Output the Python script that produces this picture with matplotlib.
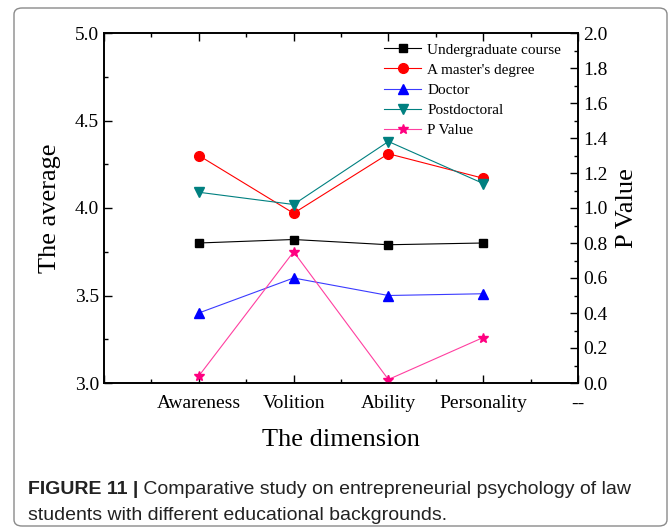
import matplotlib
matplotlib.use("Agg")
import matplotlib.pyplot as plt
from matplotlib.patches import FancyBboxPatch
from matplotlib.ticker import MultipleLocator, FixedLocator

categories = ["", "Awareness", "Volition", "Ability", "Personality", "--"]
undergrad = [3.80, 3.82, 3.79, 3.80]
master = [4.30, 3.97, 4.31, 4.17]
doctor = [3.40, 3.60, 3.50, 3.51]
postdoc = [4.09, 4.02, 4.38, 4.14]
p_value = [0.04, 0.75, 0.02, 0.26]
series_labels = ["Undergraduate course", "A master's degree", "Doctor", "Postdoctoral", "P Value"]
caption_bold = "FIGURE 11 |"
caption_rest = " Comparative study on entrepreneurial psychology of law"
caption_line2 = "students with different educational backgrounds."

serif = ["Liberation Serif", "DejaVu Serif"]
plt.rcParams["font.family"] = serif

W, H = 672, 532
fig = plt.figure(figsize=(W / 100, H / 100), dpi=100)
frame = FancyBboxPatch((14 / W, 6 / H), (667 - 14) / W, (525 - 7) / H,
                       boxstyle="round,pad=0,rounding_size=0.012",
                       transform=fig.transFigure, facecolor="none",
                       edgecolor="#8a8a8a", linewidth=1.0, zorder=0)
fig.patches.append(frame)

ax = fig.add_axes([104 / W, 1 - 383 / H, (578 - 104) / W, (383 - 33) / H])
ax.patch.set_alpha(0)
ax2 = ax.twinx()

x = [1, 2, 3, 4]
lw = 0.8
l1, = ax.plot(x, undergrad, color="#000000", lw=lw, marker="s", ms=6, label=series_labels[0])
l2, = ax.plot(x, master, color="#ff0000", lw=lw, marker="o", ms=7, label=series_labels[1])
l3, = ax.plot(x, doctor, color="#3b3bff", lw=lw, marker="^", ms=7.5, mfc="#0000ff", mec="#0000ff", label=series_labels[2])
l4, = ax.plot(x, postdoc, color="#008080", lw=lw, marker="v", ms=7.5, label=series_labels[3])
l5, = ax2.plot(x, p_value, color="#ff3fa0", lw=lw, marker="*", ms=7, mfc="#ff0080", mec="#ff0080", label=series_labels[4])

ax.set_xlim(0, 5)
ax.set_ylim(3.0, 5.0)
ax2.set_ylim(0.0, 2.0)

ax.xaxis.set_major_locator(FixedLocator(range(len(categories))))
ax.set_xticklabels(categories)
ax.xaxis.set_minor_locator(MultipleLocator(0.5))
ax.yaxis.set_major_locator(MultipleLocator(0.5))
ax.yaxis.set_minor_locator(MultipleLocator(0.25))
ax2.yaxis.set_major_locator(MultipleLocator(0.2))
ax2.yaxis.set_minor_locator(MultipleLocator(0.1))

ax.yaxis.set_major_formatter(plt.FuncFormatter(lambda v, p: f"{v:.1f}"))
ax2.yaxis.set_major_formatter(plt.FuncFormatter(lambda v, p: f"{v:.1f}"))

ax.tick_params(axis="both", which="both", direction="in", top=True, labelsize=14, width=1.0)
ax.tick_params(axis="both", which="major", length=6)
ax.tick_params(axis="both", which="minor", length=3)
ax.tick_params(axis="x", pad=9)
ax2.tick_params(axis="y", which="both", direction="in", labelsize=14, width=1.0)
ax2.tick_params(axis="y", which="major", length=6)
ax2.tick_params(axis="y", which="minor", length=3)
for a in (ax, ax2):
    for s in a.spines.values():
        s.set_linewidth(1.2)

ax.set_xlabel("The dimension", fontsize=19, labelpad=12)
ax.set_ylabel("The average", fontsize=19, labelpad=10)
ax2.set_ylabel("P Value", fontsize=19, labelpad=6)

leg = ax2.legend(handles=[l1, l2, l3, l4, l5], loc="upper right",
                 bbox_to_anchor=(561 / W, 1 - 43 / H), bbox_transform=fig.transFigure,
                 frameon=False, fontsize=11, borderpad=0, borderaxespad=0,
                 handlelength=2.4, handletextpad=0.4, labelspacing=0.42)

cap_font = ["Liberation Sans Narrow", "Liberation Sans", "DejaVu Sans"]
t = fig.text(28 / W, 1 - 490 / H, caption_bold, fontsize=14, fontweight="bold",
             family=cap_font, va="center", ha="left", color="#222222")
fig.canvas.draw()
bb = t.get_window_extent()
fig.text(bb.x1 / W, 1 - 490 / H, caption_rest, fontsize=14, family=cap_font,
         va="center", ha="left", color="#222222")
fig.text(28 / W, 1 - 515 / H, caption_line2, fontsize=14, family=cap_font,
         va="center", ha="left", color="#222222")

fig.savefig("out.png", dpi=100)
